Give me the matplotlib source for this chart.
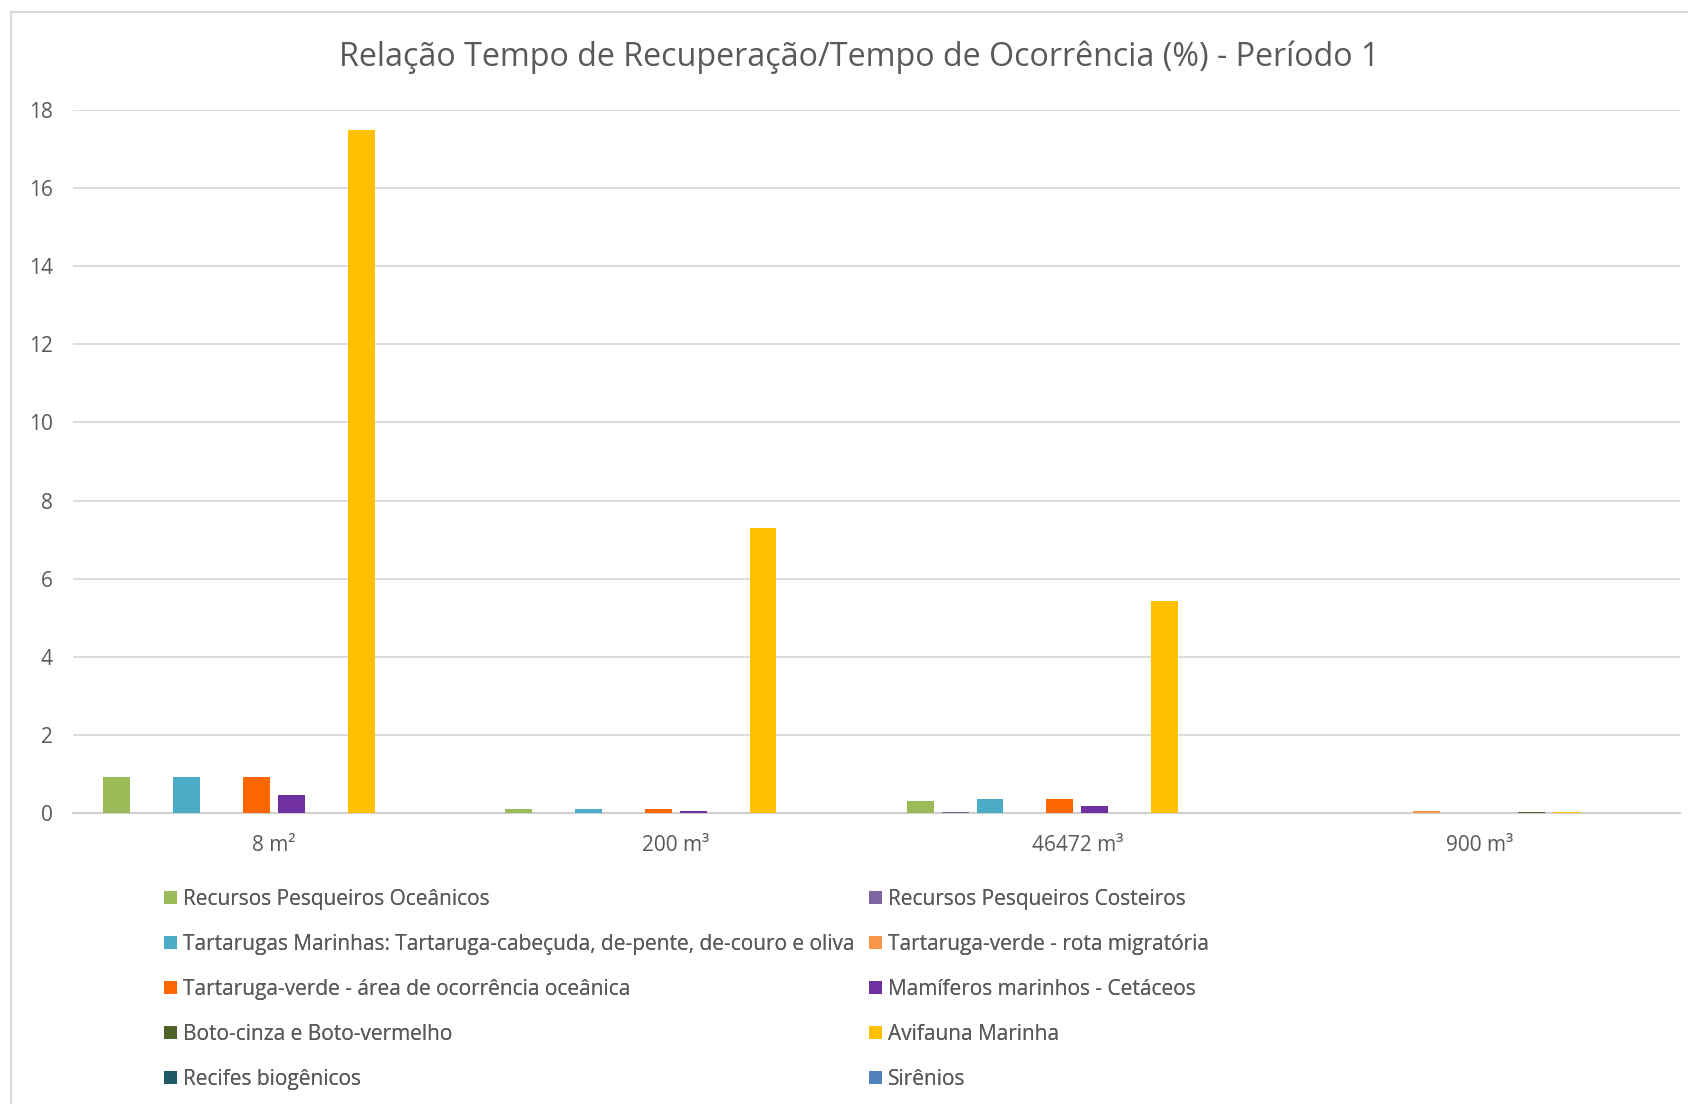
import matplotlib

matplotlib.use("Agg")
import matplotlib.pyplot as plt
import numpy as np
from matplotlib.patches import Rectangle

plt.rcParams["font.family"] = ["Open Sans", "DejaVu Sans"]

CATEGORIES = ["8 m²", "200 m³", "46472 m³", "900 m³"]
SERIES = [
    "Recursos Pesqueiros Oceânicos",
    "Recursos Pesqueiros Costeiros",
    "Tartarugas Marinhas: Tartaruga-cabeçuda, de-pente, de-couro e oliva",
    "Tartaruga-verde - rota migratória",
    "Tartaruga-verde - área de ocorrência oceânica",
    "Mamíferos marinhos - Cetáceos",
    "Boto-cinza e Boto-vermelho",
    "Avifauna Marinha",
    "Recifes biogênicos",
    "Sirênios",
]
COLORS = [
    "#9BBB59", "#8064A2", "#4BACC6", "#F79646", "#FF6600",
    "#7030A0", "#4F6228", "#FFC000", "#215968", "#4F81BD",
]
# one row per series, one column per category
VALUES = [
    [0.93, 0.10, 0.32, 0.0],
    [0.0, 0.0, 0.02, 0.0],
    [0.93, 0.10, 0.35, 0.0],
    [0.0, 0.0, 0.0, 0.04],
    [0.93, 0.10, 0.35, 0.0],
    [0.45, 0.04, 0.18, 0.0],
    [0.0, 0.0, 0.0, 0.02],
    [17.49, 7.31, 5.43, 0.03],
    [0.0, 0.0, 0.0, 0.0],
    [0.0, 0.0, 0.0, 0.0],
]
YTICKS = [0, 2, 4, 6, 8, 10, 12, 14, 16, 18]

TEXT = "#595959"
GRID = "#D9D9D9"

fig = plt.figure(figsize=(16.88, 11.04), dpi=100)
W, H = 1688, 1104

# chart area border
fig.patches.append(Rectangle((11 / W, -0.01), 1.0, 1 - 12 / H + 0.01,
                             transform=fig.transFigure, fill=False,
                             edgecolor=GRID, linewidth=1.5))

ax = fig.add_axes([73 / W, 1 - 813 / H, (1680 - 73) / W, (813 - 110) / H])
x = np.arange(len(CATEGORIES))
slot = 0.087
width = 0.067
bars = []
for i, (name, vals, color) in enumerate(zip(SERIES, VALUES, COLORS)):
    b = ax.bar(x + (i - 4.5) * slot, vals, width, color=color, label=name,
               zorder=3)
    bars.append(b)

ax.set_xlim(-0.5, len(CATEGORIES) - 0.5)
ax.set_ylim(0, 18)
ax.set_yticks(YTICKS)
ax.set_xticks(x)
ax.set_xticklabels(CATEGORIES)
ax.tick_params(length=0, labelsize=15, labelcolor=TEXT)
ax.tick_params(axis="y", pad=14.5)
ax.tick_params(axis="x", pad=16)
ax.yaxis.grid(True, color=GRID, linewidth=1.3)
ax.set_axisbelow(True)
for side in ("top", "right", "left"):
    ax.spines[side].set_visible(False)
ax.spines["bottom"].set_color("#D0D0D0")
ax.spines["bottom"].set_linewidth(1.5)

fig.text(859 / W, 1 - 57 / H, "Relação Tempo de Recuperação/Tempo de Ocorrência (%) - Período 1",
         ha="center", va="center", fontsize=23.2, color=TEXT)

# legend laid out row by row in two columns
for col, x0 in ((0, 164), (1, 869)):
    idx = list(range(col, len(SERIES), 2))
    leg = fig.legend([bars[i] for i in idx], [SERIES[i] for i in idx],
                     loc="upper left", bbox_to_anchor=(x0 / W, 1 - 889 / H),
                     frameon=False, fontsize=15, labelcolor=TEXT,
                     handlelength=0.62, handleheight=0.62, handletextpad=0.3,
                     labelspacing=1.15, borderaxespad=0, borderpad=0)
    fig.add_artist(leg)

fig.savefig("out.png", dpi=100, facecolor="white")
